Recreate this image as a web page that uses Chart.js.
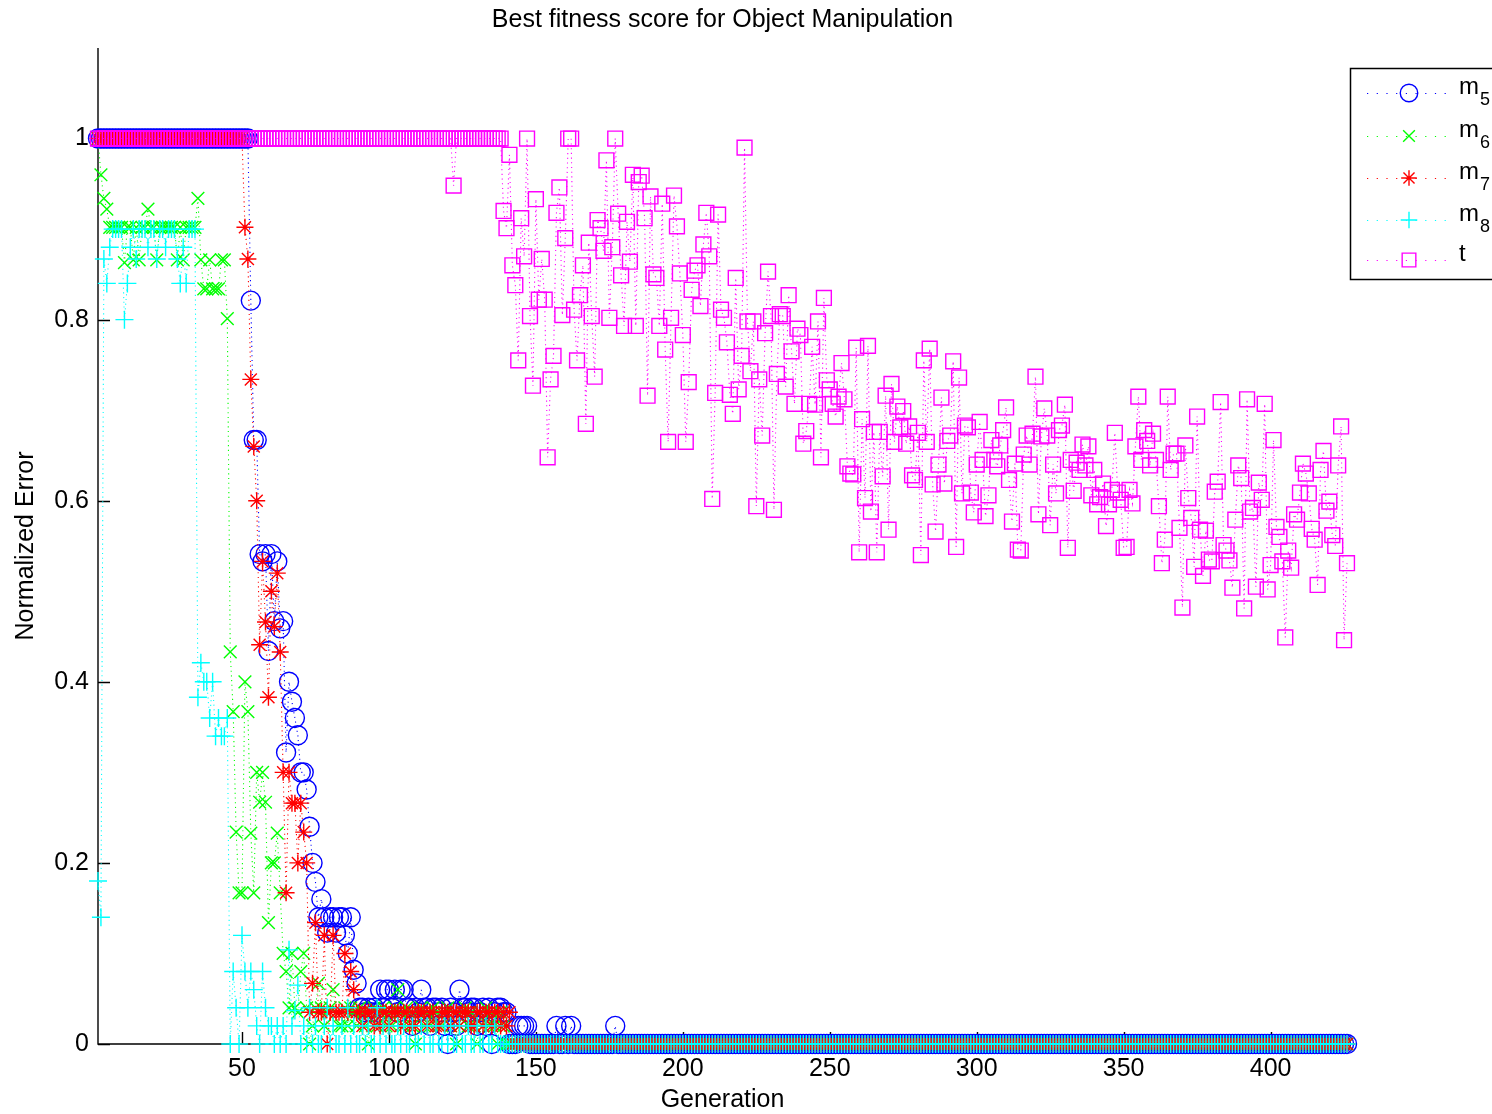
<!DOCTYPE html>
<html>
<head>
<meta charset="utf-8">
<title>Best fitness score for Object Manipulation</title>
<script src="https://cdn.jsdelivr.net/npm/chart.js@4.4.1/dist/chart.umd.min.js"></script>
<style>
  html, body { margin: 0; padding: 0; background: #fff; }
  #wrap { width: 1492px; height: 1114px; position: relative; }
</style>
</head>
<body>
<div id="wrap"><canvas id="fitness"></canvas></div>
<script>
// a constant value held for a run of generations
function run(value, count) { return new Array(count).fill(value); }

const lastGeneration = 426;
const xTicks = [50, 100, 150, 200, 250, 300, 350, 400];
const yTicks = [0, 0.2, 0.4, 0.6, 0.8, 1];
const yTickLabels = ['0', '0.2', '0.4', '0.6', '0.8', '1'];
const seriesNames = ['m5', 'm6', 'm7', 'm8', 't'];

// best normalized error per generation (index 0 = generation 1)
const m5Error = [
  ...run(1, 52),
  0.821, 0.667, 0.667, 0.541, 0.533, 0.541, 0.434, 0.541, 0.467, 0.533,
  0.459, 0.467, 0.322, 0.400, 0.378, 0.360, 0.341, 0.300, 0.300, 0.281,
  0.240, 0.200, 0.179, 0.140, 0.160, 0.140, 0.123, 0.140, 0.140, 0.123,
  0.140, 0.140, 0.120, 0.100, 0.140, 0.082, 0.067,
  0.040, 0.040, 0.035, 0.040, 0.035, 0.040, 0.035, 0.060, 0.040, 0.060,
  0.060, 0.040, 0.060, 0.035, 0.060, 0.060, 0.040, 0.040, 0.020, 0.040,
  0.035, 0.060, 0.040, 0.040, 0.020, 0.040, 0.040, 0.035, 0.040, 0.020,
  0.000, 0.040, 0.035, 0.020, 0.060, 0.040, 0.040, 0.035, 0.040, 0.040,
  0.020, 0.035, 0.040, 0.020, 0.040, 0.000, 0.035, 0.040, 0.040, 0.035,
  0.035, 0.000, 0.000, 0.000, 0.020, 0.020,
  0.020, 0.020, 0, 0, 0, 0, 0, 0, 0, 0, 0, 0.020, 0, 0, 0.020, 0, 0.020,
  0, 0, 0, 0, 0, 0, 0, 0, 0, 0, 0, 0, 0, 0, 0.020, 0,
  ...run(0, 248)
];

const m6Error = [
  1.000, 0.960, 0.934, 0.922, 0.902, 0.902, 0.902, 0.902, 0.902, 0.863,
  0.902, 0.902, 0.866, 0.902, 0.866, 0.902, 0.902, 0.922, 0.902, 0.902,
  0.866, 0.902, 0.902, 0.902, 0.902, 0.902, 0.902, 0.866, 0.902, 0.866,
  0.902, 0.902, 0.902, 0.902, 0.934, 0.866, 0.834, 0.834, 0.866, 0.834,
  0.834, 0.834, 0.866, 0.866, 0.801,
  0.433, 0.367, 0.234, 0.167, 0.167, 0.400, 0.367, 0.233, 0.167, 0.300,
  0.267, 0.300, 0.267, 0.134, 0.200, 0.200, 0.233, 0.167, 0.100, 0.080,
  0.040, 0.100, 0.040, 0.035, 0.080, 0.100, 0.040, 0.000, 0.020, 0.040,
  0.067, 0.040, 0.020, 0.035, 0.040, 0.060, 0.035, 0.020, 0.020, 0.040,
  0.020, 0.040, 0.035, 0.020, 0.040, 0.035, 0.020, 0.000, 0.035, 0.040,
  0.020, 0.035, 0.040, 0.020, 0.035, 0.020, 0.040, 0.060, 0.035, 0.020,
  0.040, 0.035, 0.020, 0.000, 0.035, 0.040, 0.020, 0.035, 0.020, 0.040,
  0.035, 0.020, 0.020, 0.035, 0.040, 0.020, 0.035, 0.000, 0.020, 0.035,
  0.040, 0.020, 0.035, 0.020, 0.000, 0.035, 0.020, 0.040, 0.020, 0.035,
  0.020, 0.000, 0.035, 0.020, 0.000,
  ...run(0, 286)
];

const m7Error = [
  ...run(1, 50),
  0.902, 0.867, 0.734, 0.660, 0.600, 0.441, 0.533, 0.466, 0.383, 0.500,
  0.461, 0.520, 0.433, 0.300, 0.167, 0.300, 0.266, 0.266, 0.200, 0.266,
  0.234, 0.200, 0.035, 0.067, 0.134, 0.035, 0.035, 0.120, 0.000, 0.035,
  0.120, 0.035, 0.035, 0.035, 0.100, 0.035, 0.080, 0.060,
  0.035, 0.035, 0.020, 0.035, 0.035, 0.035, 0.020, 0.035, 0.020, 0.035,
  0.035, 0.020, 0.035, 0.035, 0.035, 0.020, 0.035, 0.035, 0.020, 0.035,
  0.020, 0.035, 0.035, 0.035, 0.020, 0.035, 0.035, 0.020, 0.020, 0.035,
  0.035, 0.035, 0.020, 0.035, 0.035, 0.020, 0.035, 0.035, 0.035, 0.020,
  0.020, 0.035, 0.035, 0.020, 0.035, 0.035, 0.020, 0.035, 0.035, 0.020,
  0.035, 0.020, 0.035, 0.000,
  ...run(0, 284)
];

const m8Error = [
  0.180, 0.140, 0.867, 0.840, 0.880, 0.900, 0.900, 0.900, 0.900, 0.800,
  0.840, 0.880, 0.900, 0.867, 0.900, 0.900, 0.900, 0.880, 0.900, 0.900,
  0.867, 0.900, 0.900, 0.880, 0.900, 0.900, 0.900, 0.867, 0.840, 0.880,
  0.840, 0.900, 0.900, 0.900, 0.383, 0.421, 0.400, 0.400, 0.360, 0.400,
  0.340, 0.360, 0.340, 0.340, 0.360, 0.000, 0.080, 0.040, 0.000, 0.120,
  0.080, 0.040, 0.080, 0.060, 0.020, 0.000, 0.080, 0.040, 0.020, 0.020,
  0.000, 0.020, 0.000, 0.020, 0.000,
  0.104, 0.020, 0.037, 0.065, 0.000, 0.020, 0.000, 0.040, 0.000, 0.020,
  0.000, 0.000, 0.020, 0.040, 0.000, 0.020, 0.000, 0.000, 0.020, 0.000,
  0.040, 0.000, 0.020, 0.000, 0.000, 0.020, 0.000, 0.020, 0.000, 0.000,
  0.040, 0.000, 0.020, 0.000, 0.020, 0.000, 0.000, 0.020, 0.000, 0.020,
  0.000, 0.000, 0.020, 0.000, 0.000, 0.020, 0.000, 0.020, 0.000, 0.000,
  0.020, 0.000, 0.000, 0.020, 0.000, 0.020, 0.000, 0.000, 0.020, 0.000,
  0.000, 0.020, 0.000, 0.000, 0.020, 0.000, 0.000, 0.020, 0.000, 0.000,
  0.020, 0.000, 0.000, 0.000, 0.000,
  ...run(0, 286)
];

const tError = [
  ...run(1, 121), 0.948, ...run(1, 16),
  0.920, 0.901, 0.982, 0.860, 0.838, 0.755, 0.912, 0.870, 1.000, 0.804,
  0.727, 0.933, 0.822, 0.867, 0.822, 0.648, 0.734, 0.760, 0.918, 0.946,
  0.805, 0.890, 1.000, 1.000, 0.811, 0.755, 0.827, 0.860, 0.685, 0.885,
  0.804, 0.737, 0.910, 0.901, 0.876, 0.976, 0.802, 0.880, 1.000, 0.917,
  0.849, 0.793, 0.908, 0.864, 0.960, 0.793, 0.952, 0.959, 0.912, 0.716,
  0.936, 0.850, 0.846, 0.793, 0.928, 0.767, 0.665, 0.802, 0.937, 0.903,
  0.851, 0.783, 0.665, 0.731, 0.833, 0.854, 0.860, 0.815, 0.883, 0.918,
  0.870, 0.602, 0.719, 0.916, 0.811, 0.802, 0.775, 0.717, 0.696, 0.846,
  0.723, 0.760, 0.990, 0.798, 0.743, 0.798, 0.594, 0.734, 0.672, 0.785,
  0.853, 0.804, 0.590, 0.740, 0.806, 0.804, 0.726, 0.827, 0.765, 0.707,
  0.790, 0.783, 0.663, 0.677, 0.707, 0.770, 0.706, 0.798, 0.648, 0.824,
  0.733, 0.723, 0.707, 0.693, 0.715, 0.752, 0.712, 0.638, 0.630, 0.629,
  0.769, 0.543, 0.690, 0.603, 0.771, 0.588, 0.676, 0.543, 0.676, 0.627,
  0.716, 0.568, 0.729, 0.665, 0.704, 0.681, 0.699, 0.663, 0.682, 0.628,
  0.623, 0.675, 0.540, 0.755, 0.665, 0.768, 0.618, 0.566, 0.640, 0.714,
  0.619, 0.666, 0.672, 0.754, 0.549, 0.736, 0.608, 0.683, 0.681, 0.609,
  0.587, 0.640, 0.687, 0.645, 0.583, 0.606, 0.667, 0.645, 0.638, 0.661,
  0.678, 0.703, 0.623, 0.577, 0.641, 0.546, 0.545, 0.651, 0.672, 0.640,
  0.674, 0.737, 0.585, 0.671, 0.702, 0.672, 0.573, 0.640, 0.608, 0.678,
  0.683, 0.706, 0.548, 0.645, 0.611, 0.642, 0.634, 0.662, 0.639, 0.660,
  0.606, 0.634, 0.596, 0.604, 0.619, 0.572, 0.596, 0.612, 0.675, 0.609,
  0.601, 0.548, 0.549, 0.612, 0.597, 0.660, 0.715, 0.645, 0.678, 0.666,
  0.639, 0.674, 0.645, 0.594, 0.531, 0.557, 0.715, 0.634, 0.652, 0.652,
  0.570, 0.482, 0.661, 0.603, 0.581, 0.527, 0.693, 0.568, 0.517, 0.567,
  0.535, 0.533, 0.610, 0.621, 0.709, 0.551, 0.545, 0.534, 0.504, 0.579,
  0.639, 0.625, 0.481, 0.712, 0.588, 0.592, 0.505, 0.620, 0.601, 0.707,
  0.502, 0.529, 0.667, 0.571, 0.560, 0.533, 0.449, 0.545, 0.526, 0.585,
  0.579, 0.609, 0.641, 0.630, 0.608, 0.569, 0.557, 0.507, 0.634, 0.655,
  0.589, 0.599, 0.562, 0.550, 0.639, 0.682, 0.446, 0.531
];

const seriesValues = [m5Error, m6Error, m7Error, m8Error, tError];

// marker look for each series, MATLAB default colours
const seriesStyles = [
  { color: '#0000ff', marker: 'circle',   radius: 9.5 },
  { color: '#00ff00', marker: 'crossRot', radius: 9 },
  { color: '#ff0000', marker: 'star',     radius: 8.5 },
  { color: '#00ffff', marker: 'cross',    radius: 9 },
  { color: '#ff00ff', marker: 'rect',     radius: 10.5 }
];

const FONT = "'Liberation Sans', Arial, Helvetica, sans-serif";

function drawMarker(ctx, style, x, y, r) {
  ctx.beginPath();
  if (style === 'circle') {
    ctx.arc(x, y, r, 0, Math.PI * 2);
  } else if (style === 'rect') {
    const h = r * Math.SQRT1_2;
    ctx.rect(x - h, y - h, 2 * h, 2 * h);
  } else {
    if (style === 'cross' || style === 'star') {
      ctx.moveTo(x - r, y); ctx.lineTo(x + r, y);
      ctx.moveTo(x, y - r); ctx.lineTo(x, y + r);
    }
    if (style === 'crossRot' || style === 'star') {
      const d = r * Math.SQRT1_2;
      ctx.moveTo(x - d, y - d); ctx.lineTo(x + d, y + d);
      ctx.moveTo(x - d, y + d); ctx.lineTo(x + d, y - d);
    }
  }
  ctx.stroke();
}

// MATLAB style frame: left/bottom axes with inward ticks, title, axis labels, boxed legend
const matlabFrame = {
  id: 'matlabFrame',
  beforeDatasetsDraw(chart) {
    const { ctx, chartArea: a, scales: { x, y } } = chart;
    ctx.save();
    ctx.strokeStyle = '#000';
    ctx.lineWidth = 1.4;
    ctx.beginPath();
    ctx.moveTo(a.left, a.top);
    ctx.lineTo(a.left, a.bottom);
    ctx.lineTo(a.right, a.bottom);
    yTicks.forEach(v => {
      const py = Math.round(y.getPixelForValue(v)) + 0.5;
      ctx.moveTo(a.left, py); ctx.lineTo(a.left + 12, py);
    });
    xTicks.forEach(v => {
      const px = Math.round(x.getPixelForValue(v)) + 0.5;
      ctx.moveTo(px, a.bottom); ctx.lineTo(px, a.bottom - 12);
    });
    ctx.stroke();
    ctx.restore();
  },
  afterDraw(chart) {
    const { ctx, chartArea: a } = chart;
    const cx = (a.left + a.right) / 2;
    ctx.save();
    ctx.fillStyle = '#000';
    ctx.font = '25px ' + FONT;
    ctx.textAlign = 'center';
    ctx.textBaseline = 'middle';
    ctx.fillText('Best fitness score for Object Manipulation', cx, 20);
    ctx.fillText('Generation', cx, 1100);
    ctx.save();
    ctx.translate(26, (a.top + a.bottom) / 2);
    ctx.rotate(-Math.PI / 2);
    ctx.fillText('Normalized Error', 0, 0);
    ctx.restore();

    // legend box
    const bx = 1350, by = 68, bw = 170, bh = 211;
    ctx.fillStyle = '#fff';
    ctx.fillRect(bx, by, bw, bh);
    ctx.strokeStyle = '#000';
    ctx.lineWidth = 1.5;
    ctx.strokeRect(bx + 0.5, by + 0.5, bw, bh);
    const rowY = [93, 136, 178, 220, 260];
    seriesNames.forEach((name, i) => {
      const st = seriesStyles[i];
      const yy = rowY[i];
      ctx.strokeStyle = st.color;
      ctx.lineWidth = 1.2;
      ctx.setLineDash([1.2, 8.5]);
      ctx.beginPath();
      ctx.moveTo(1367, yy + 0.5); ctx.lineTo(1446, yy + 0.5);
      ctx.stroke();
      ctx.setLineDash([]);
      ctx.lineWidth = 1.4;
      drawMarker(ctx, st.marker, 1409, yy, st.radius * 0.92);
      ctx.fillStyle = '#000';
      ctx.textAlign = 'left';
      ctx.textBaseline = 'alphabetic';
      ctx.font = '24px ' + FONT;
      ctx.fillText(name.charAt(0), 1459, yy + 1);
      if (name.length > 1) {
        const w = ctx.measureText(name.charAt(0)).width;
        ctx.font = '18px ' + FONT;
        ctx.fillText(name.slice(1), 1459 + w + 1, yy + 12);
      }
    });
    ctx.restore();
  }
};

const datasets = seriesValues.map((vals, i) => ({
  label: seriesNames[i],
  data: vals.map((v, g) => ({ x: g + 1, y: v })),
  order: seriesNames.length - i,
  borderColor: seriesStyles[i].color,
  borderWidth: 1.1,
  borderDash: [1.1, 3.6],
  fill: false,
  tension: 0,
  pointStyle: seriesStyles[i].marker,
  pointRadius: seriesStyles[i].radius,
  pointBorderColor: seriesStyles[i].color,
  pointBackgroundColor: 'rgba(0,0,0,0)',
  pointBorderWidth: 1.4,
  clip: false
}));

new Chart(document.getElementById('fitness'), {
  type: 'line',
  data: { datasets },
  options: {
    responsive: true,
    maintainAspectRatio: false,
    animation: false,
    events: [],
    layout: { padding: { top: 48, right: 145, left: 0, bottom: 0 } },
    plugins: {
      legend: { display: false },
      title: { display: false },
      tooltip: { enabled: false }
    },
    scales: {
      x: {
        type: 'linear',
        min: 1,
        max: lastGeneration,
        grid: { display: false, drawTicks: false },
        border: { display: false },
        afterBuildTicks: s => { s.ticks = xTicks.map(v => ({ value: v })); },
        afterFit: s => { s.height = 70; },
        ticks: {
          padding: 10, color: '#000', autoSkip: false, maxRotation: 0,
          font: { family: FONT, size: 25 },
          callback: v => String(v)
        }
      },
      y: {
        type: 'linear',
        min: 0,
        max: 1.1,
        grid: { display: false, drawTicks: false },
        border: { display: false },
        afterBuildTicks: s => { s.ticks = yTicks.map(v => ({ value: v })); },
        afterFit: s => { s.width = 98; },
        ticks: {
          padding: 9, color: '#000', autoSkip: false,
          font: { family: FONT, size: 25 },
          callback: v => yTickLabels[yTicks.indexOf(v)]
        }
      }
    }
  },
  plugins: [matlabFrame]
});
</script>
</body>
</html>
